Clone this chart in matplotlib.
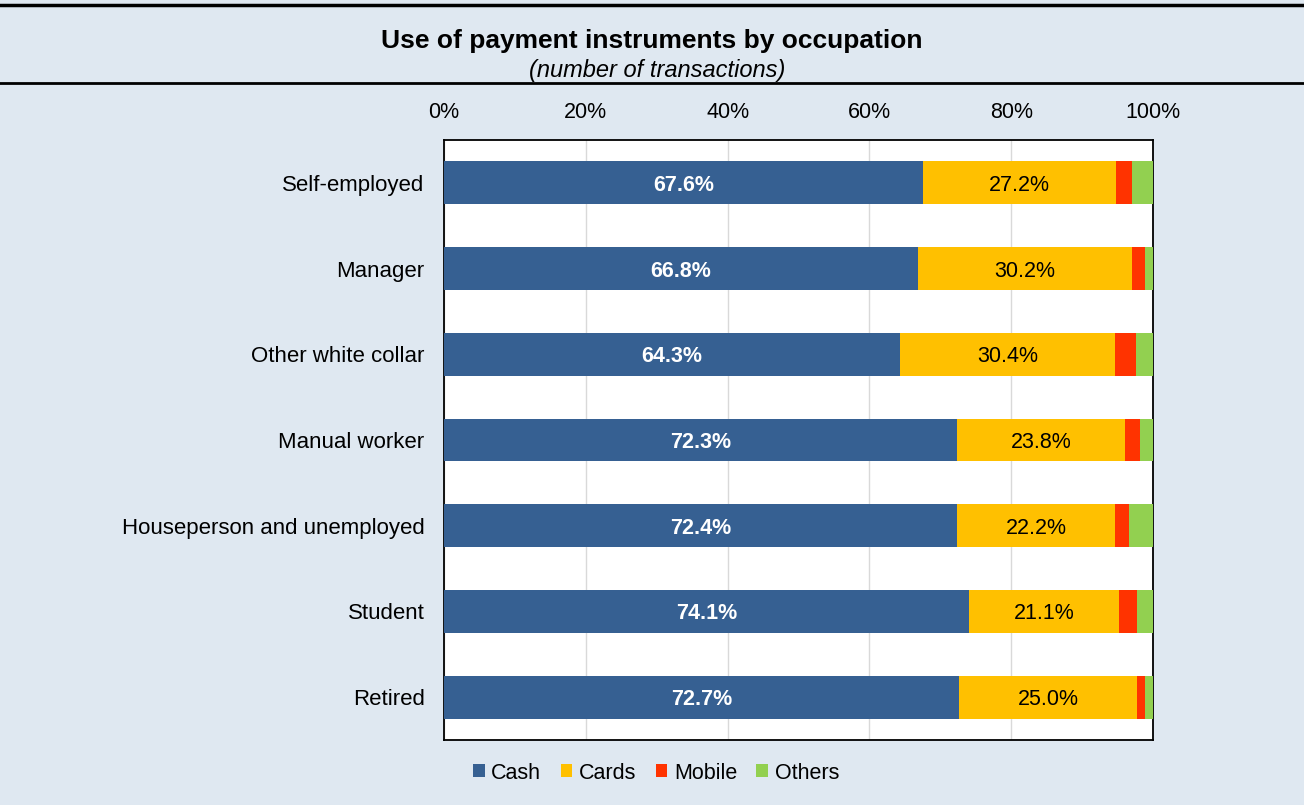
import matplotlib.pyplot as plt
from matplotlib.lines import Line2D
import numpy as np

plt.rcParams['font.family'] = ['Liberation Sans', 'DejaVu Sans']

# Dane
categories = ['Self-employed', 'Manager', 'Other white collar', 'Manual worker',
              'Houseperson and unemployed', 'Student', 'Retired']
cash = [67.6, 66.8, 64.3, 72.3, 72.4, 74.1, 72.7]
cards = [27.2, 30.2, 30.4, 23.8, 22.2, 21.1, 25.0]
mobile = [2.2, 1.9, 2.9, 2.1, 2.0, 2.5, 1.2]
others = [3.0, 1.1, 2.4, 1.8, 3.4, 2.3, 1.1]

series = ['Cash', 'Cards', 'Mobile', 'Others']
colors = ['#366092', '#FFC000', '#FF3300', '#92D050']
bg = '#DFE8F1'
fs = 15.5

fig = plt.figure(figsize=(13.04, 8.05), dpi=100, facecolor=bg)
ax = fig.add_axes([444 / 1304, 1 - 740 / 805, (1153 - 444) / 1304, 600 / 805])
ax.set_facecolor('white')

y = np.arange(len(categories))
left = np.zeros(len(categories))
for name, vals, col in zip(series, [cash, cards, mobile, others], colors):
    bars = ax.barh(y, vals, left=left, height=0.5, color=col, label=name, zorder=3)
    if name == 'Cash':
        txts = ax.bar_label(bars, labels=[f'{v:.1f}%' for v in vals], label_type='center',
                            color='white', fontweight='bold', fontsize=fs)
    elif name == 'Cards':
        txts = ax.bar_label(bars, labels=[f'{v:.1f}%' for v in vals], label_type='center',
                            color='black', fontsize=fs)
    else:
        txts = []
    for t in txts:
        t.set_va('center_baseline')
    left += np.array(vals)

ax.set_xlim(0, 100)
ax.set_ylim(len(categories) - 0.5, -0.5)
ax.set_yticks(y)
ax.set_yticklabels(categories, fontsize=16)
ax.set_xticks(np.arange(0, 101, 20))
ax.set_xticklabels([f'{t}%' for t in range(0, 101, 20)], fontsize=fs)
ax.xaxis.tick_top()
ax.tick_params(axis='y', length=0, pad=14)
ax.tick_params(axis='x', length=0, pad=12)
ax.grid(axis='x', color='#D9D9D9', linewidth=1, zorder=0)
for s in ax.spines.values():
    s.set_color('black')
    s.set_linewidth(1.3)

fig.legend(loc='center', bbox_to_anchor=(656 / 1304, 1 - 773 / 805), ncol=4, frameon=False,
           fontsize=15.5, handlelength=0.55, handleheight=0.55, handletextpad=0.3,
           columnspacing=0.9)

fig.text(652 / 1304, 1 - 41 / 805, 'Use of payment instruments by occupation',
         ha='center', va='center', fontsize=19, fontweight='bold')
fig.text(657 / 1304, 1 - 71 / 805, '(number of transactions)',
         ha='center', va='center', fontsize=17, fontstyle='italic')

fig.add_artist(Line2D([0, 1], [1 - 5 / 805, 1 - 5 / 805], color='black', linewidth=2.5))
fig.add_artist(Line2D([0, 1], [1 - 83 / 805, 1 - 83 / 805], color='black', linewidth=2))

plt.savefig('out.png', dpi=100, facecolor=bg)
